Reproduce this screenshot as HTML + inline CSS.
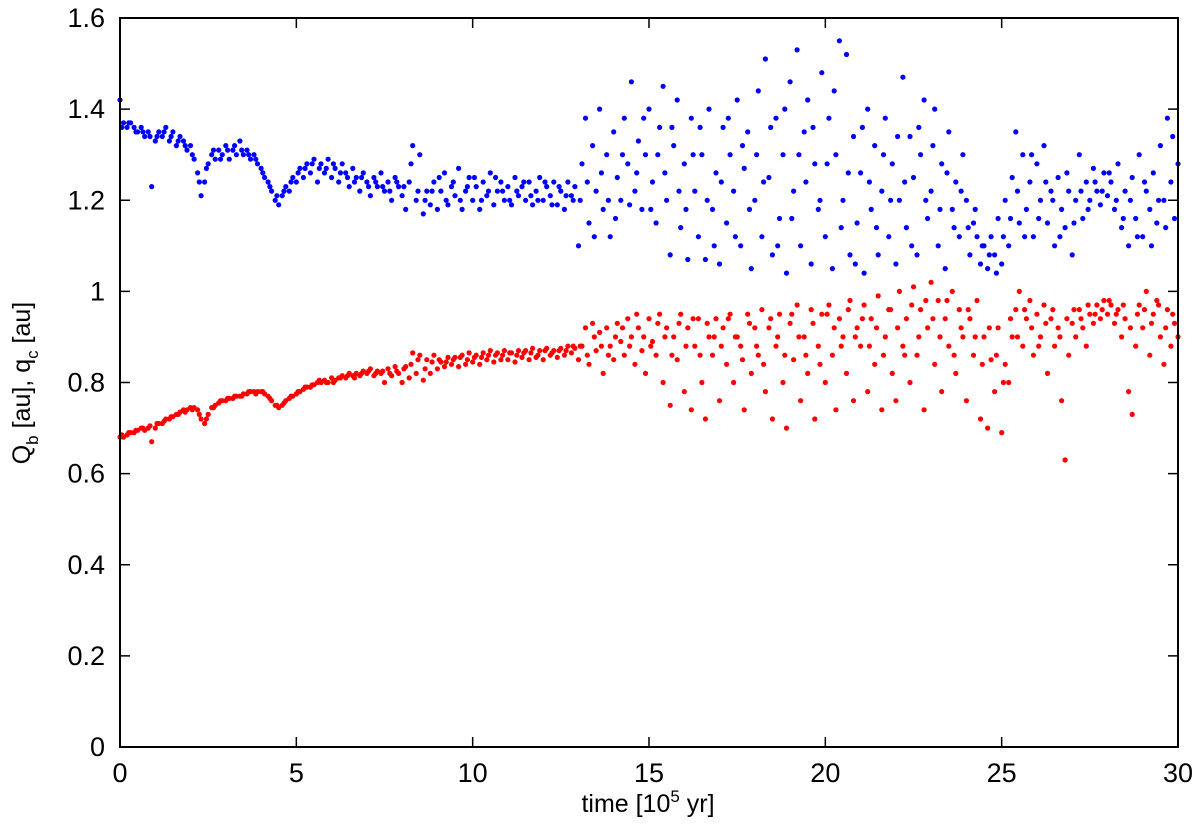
<!DOCTYPE html>
<html><head><meta charset="utf-8"><style>
html,body{margin:0;padding:0;background:#fff;}
svg{display:block;font-family:"Liberation Sans",sans-serif;}
</style></head><body>
<svg id="chart" width="1200" height="834" viewBox="0 0 1200 834" xmlns="http://www.w3.org/2000/svg">
<g id="points"></g>
<rect x="120" y="18" width="1058" height="729" fill="none" stroke="#000" stroke-width="2"/>
<g id="axes"></g>
<text x="648" y="812" font-size="25" text-anchor="middle">time [10<tspan dy="-10" font-size="17">5</tspan><tspan dy="10"> yr]</tspan></text>
<text transform="translate(30,383) rotate(-90)" font-size="25" text-anchor="middle">Q<tspan dy="8" font-size="17">b</tspan><tspan dy="-8"> [au], q</tspan><tspan dy="8" font-size="17">c</tspan><tspan dy="-8"> [au]</tspan></text>
</svg>
<script>
const xTicks = [0,5,10,15,20,25,30];
const yTicks = [0,0.2,0.4,0.6,0.8,1,1.2,1.4,1.6];
const yTickLabels = ["0","0.2","0.4","0.6","0.8","1","1.2","1.4","1.6"];
const blueQb = [[0,1.42],[0.1,1.37],[0.2,1.36],[0.3,1.37],[0.4,1.36],[0.5,1.35],[0.6,1.36],[0.7,1.34],[0.8,1.35],[0.9,1.23],[1,1.33],[1.1,1.35],[1.2,1.34],[1.3,1.36],[1.4,1.33],[1.5,1.35],[1.6,1.32],[1.7,1.34],[1.8,1.33],[1.9,1.31],[2,1.32],[2.1,1.29],[2.2,1.26],[2.3,1.21],[2.4,1.24],[2.5,1.28],[2.6,1.3],[2.7,1.29],[2.8,1.31],[2.9,1.3],[3,1.32],[3.1,1.29],[3.2,1.31],[3.3,1.3],[3.4,1.33],[3.5,1.3],[3.6,1.31],[3.7,1.29],[3.8,1.3],[3.9,1.28],[4,1.27],[4.1,1.25],[4.2,1.24],[4.3,1.22],[4.4,1.2],[4.5,1.19],[4.6,1.21],[4.7,1.23],[4.8,1.22],[4.9,1.25],[5,1.24],[5.1,1.27],[5.2,1.25],[5.3,1.28],[5.4,1.26],[5.5,1.29],[5.6,1.24],[5.7,1.28],[5.8,1.26],[5.9,1.29],[6,1.25],[6.1,1.27],[6.2,1.24],[6.3,1.28],[6.4,1.26],[6.5,1.23],[6.6,1.27],[6.7,1.25],[6.8,1.22],[6.9,1.26],[7,1.24],[7.1,1.21],[7.2,1.25],[7.3,1.23],[7.4,1.26],[7.5,1.22],[7.6,1.24],[7.7,1.2],[7.8,1.25],[7.9,1.23],[8,1.21],[8.1,1.18],[8.2,1.24],[8.3,1.32],[8.4,1.2],[8.5,1.3],[8.6,1.17],[8.7,1.22],[8.8,1.19],[8.9,1.24],[9,1.18],[9.1,1.22],[9.2,1.26],[9.3,1.19],[9.4,1.23],[9.5,1.21],[9.6,1.27],[9.7,1.18],[9.8,1.22],[9.9,1.25],[10,1.2],[10.1,1.23],[10.2,1.18],[10.3,1.24],[10.4,1.21],[10.5,1.26],[10.6,1.19],[10.7,1.22],[10.8,1.24],[10.9,1.2],[11,1.23],[11.1,1.19],[11.2,1.25],[11.3,1.21],[11.4,1.23],[11.5,1.2],[11.6,1.24],[11.7,1.19],[11.8,1.22],[11.9,1.25],[12,1.2],[12.1,1.23],[12.2,1.21],[12.3,1.24],[12.4,1.19],[12.5,1.22],[12.6,1.18],[12.7,1.24],[12.8,1.21],[12.9,1.23],
[13,1.1],[13.1,1.28],[13.2,1.38],[13.3,1.15],[13.4,1.32],[13.5,1.22],[13.6,1.4],[13.7,1.18],[13.8,1.3],[13.9,1.12],[14,1.35],[14.1,1.25],[14.2,1.2],[14.3,1.38],[14.4,1.28],[14.5,1.46],[14.6,1.22],[14.7,1.33],[14.8,1.18],[14.9,1.3],[15,1.4],[15.1,1.24],[15.2,1.15],[15.3,1.36],[15.4,1.45],[15.5,1.2],[15.6,1.08],[15.7,1.32],[15.8,1.42],[15.9,1.14],[16,1.28],[16.1,1.07],[16.2,1.38],[16.3,1.22],[16.4,1.12],[16.5,1.3],[16.6,1.07],[16.7,1.4],[16.8,1.18],[16.9,1.26],[17,1.06],[17.1,1.36],[17.2,1.15],[17.3,1.3],[17.4,1.22],[17.5,1.42],[17.6,1.1],[17.7,1.27],[17.8,1.35],[17.9,1.05],[18,1.2],[18.1,1.44],[18.2,1.12],[18.3,1.51],[18.4,1.25],[18.5,1.08],[18.6,1.38],[18.7,1.16],[18.8,1.3],[18.9,1.04],[19,1.46],[19.1,1.22],[19.2,1.53],[19.3,1.1],[19.4,1.35],[19.5,1.42],[19.6,1.06],[19.7,1.28],[19.8,1.18],[19.9,1.48],[20,1.12],[20.1,1.38],[20.2,1.05],[20.3,1.3],[20.4,1.55],[20.5,1.2],[20.6,1.52],[20.7,1.08],[20.8,1.34],[20.9,1.15],[21,1.26],[21.1,1.04],[21.2,1.4],[21.3,1.18],[21.4,1.32],[21.5,1.08],[21.6,1.22],[21.7,1.38],[21.8,1.12],[21.9,1.28],[22,1.06],[22.1,1.2],[22.2,1.47],[22.3,1.14],[22.4,1.34],[22.5,1.25],[22.6,1.08],[22.7,1.3],[22.8,1.42],[22.9,1.16],[23,1.22],[23.1,1.4],[23.2,1.1],[23.3,1.28],[23.4,1.05],[23.5,1.35],[23.6,1.18],[23.7,1.24],[23.8,1.12],[23.9,1.3],[24,1.2],[24.1,1.08],[24.2,1.15],[24.3,1.12],[24.4,1.06],[24.5,1.1],[24.6,1.05],[24.7,1.12],[24.8,1.08],[24.9,1.16],[25,1.06],[25.1,1.2],[25.2,1.1],[25.3,1.25],[25.4,1.35],[25.5,1.15],[25.6,1.3],[25.7,1.18],[25.8,1.24],[25.9,1.12],[26,1.28],[26.1,1.2],[26.2,1.32],[26.3,1.15],[26.4,1.22],[26.5,1.1],[26.6,1.25],[26.7,1.18],[26.8,1.14],[26.9,1.22],[27,1.08],[27.1,1.2],[27.2,1.3],[27.3,1.16],[27.4,1.24],[27.5,1.2],[27.6,1.27],[27.7,1.22],[27.8,1.19],[27.9,1.26],[28,1.21],[28.1,1.24],[28.2,1.18],[28.3,1.28],[28.4,1.14],[28.5,1.22],[28.6,1.1],[28.7,1.25],[28.8,1.16],[28.9,1.3],[29,1.12],[29.1,1.22],[29.2,1.18],[29.3,1.26],[29.4,1.15],[29.5,1.32],[29.6,1.2],[29.7,1.38],[29.8,1.24],[29.9,1.16],[30,1.28]];
const blueQbExtra = [[0.05,1.36],[0.25,1.37],[0.45,1.35],[0.65,1.35],[0.85,1.34],[1.05,1.34],[1.25,1.35],[1.45,1.34],[1.65,1.33],[1.85,1.32],[2.05,1.3],[2.25,1.24],[2.45,1.27],[2.65,1.31],[2.85,1.29],[3.05,1.31],[3.25,1.32],[3.45,1.31],[3.65,1.3],[3.85,1.29],[4.05,1.26],[4.25,1.23],[4.45,1.21],[4.65,1.22],[4.85,1.24],[5.05,1.26],[5.25,1.27],[5.45,1.28],[5.65,1.27],[5.85,1.27],[6.05,1.28],[6.25,1.26],[6.45,1.25],[6.65,1.24],[6.85,1.25],[7.05,1.23],[7.25,1.24],[7.45,1.23],[7.65,1.22],[7.85,1.24],[8.05,1.23],[8.25,1.28],[8.45,1.22],[8.65,1.2],[8.85,1.22],[9.05,1.25],[9.25,1.2],[9.45,1.24],[9.65,1.2],[9.85,1.23],[10.05,1.25],[10.25,1.2],[10.45,1.22],[10.65,1.25],[10.85,1.22],[11.05,1.2],[11.25,1.22],[11.45,1.24],[11.65,1.21],[11.85,1.2],[12.05,1.24],[12.25,1.19],[12.45,1.23],[12.65,1.21],[12.85,1.2],
[13.05,1.2],[13.25,1.24],[13.45,1.12],[13.65,1.26],[13.85,1.2],[14.05,1.16],[14.25,1.3],[14.45,1.19],[14.65,1.26],[14.85,1.38],[15.05,1.18],[15.25,1.3],[15.45,1.26],[15.65,1.36],[15.85,1.22],[16.05,1.18],[16.25,1.3],[16.45,1.36],[16.65,1.2],[16.85,1.1],[17.05,1.24],[17.25,1.38],[17.45,1.12],[17.65,1.32],[17.85,1.18],[18.05,1.3],[18.25,1.24],[18.45,1.36],[18.65,1.1],[18.85,1.4],[19.05,1.16],[19.25,1.3],[19.45,1.24],[19.65,1.36],[19.85,1.2],[20.05,1.28],[20.25,1.44],[20.45,1.14],[20.65,1.26],[20.85,1.06],[21.05,1.36],[21.25,1.24],[21.45,1.14],[21.65,1.3],[21.85,1.2],[22.05,1.34],[22.25,1.24],[22.45,1.1],[22.65,1.36],[22.85,1.2],[23.05,1.32],[23.25,1.18],[23.45,1.26],[23.65,1.14],[23.85,1.22],[24.05,1.14],[24.25,1.18],[24.45,1.1],[24.65,1.08],[24.85,1.04],[25.05,1.12],[25.25,1.16],[25.45,1.22],[25.65,1.12],[25.85,1.3],[26.05,1.16],[26.25,1.24],[26.45,1.2],[26.65,1.12],[26.85,1.26],[27.05,1.15],[27.25,1.22],[27.45,1.18],[27.65,1.24],[27.85,1.22],[28.05,1.26],[28.25,1.2],[28.45,1.16],[28.65,1.2],[28.85,1.12],[29.05,1.24],[29.25,1.1],[29.45,1.2],[29.65,1.14],[29.85,1.34]];
const redQc = [[0,0.68],[0.1,0.68],[0.2,0.685],[0.3,0.69],[0.4,0.69],[0.5,0.695],[0.6,0.7],[0.7,0.695],[0.8,0.7],[0.9,0.67],[1,0.7],[1.1,0.71],[1.2,0.71],[1.3,0.72],[1.4,0.72],[1.5,0.725],[1.6,0.73],[1.7,0.735],[1.8,0.74],[1.9,0.74],[2,0.745],[2.1,0.745],[2.2,0.74],[2.3,0.72],[2.4,0.71],[2.5,0.73],[2.6,0.745],[2.7,0.75],[2.8,0.755],[2.9,0.76],[3,0.76],[3.1,0.765],[3.2,0.765],[3.3,0.77],[3.4,0.77],[3.5,0.775],[3.6,0.775],[3.7,0.78],[3.8,0.78],[3.9,0.78],[4,0.78],[4.1,0.775],[4.2,0.77],[4.3,0.76],[4.4,0.75],[4.5,0.745],[4.6,0.75],[4.7,0.76],[4.8,0.765],[4.9,0.77],[5,0.775],[5.1,0.78],[5.2,0.785],[5.3,0.79],[5.4,0.79],[5.5,0.795],[5.6,0.8],[5.7,0.8],[5.8,0.805],[5.9,0.8],[6,0.81],[6.1,0.805],[6.2,0.81],[6.3,0.815],[6.4,0.81],[6.5,0.82],[6.6,0.815],[6.7,0.82],[6.8,0.815],[6.9,0.825],[7,0.82],[7.1,0.83],[7.2,0.815],[7.3,0.825],[7.4,0.82],[7.5,0.8],[7.6,0.83],[7.7,0.815],[7.8,0.835],[7.9,0.82],[8,0.8],[8.1,0.835],[8.2,0.81],[8.3,0.865],[8.4,0.82],[8.5,0.86],[8.6,0.805],[8.7,0.85],[8.8,0.82],[8.9,0.86],[9,0.83],[9.1,0.845],[9.2,0.835],[9.3,0.855],[9.4,0.84],[9.5,0.855],[9.6,0.835],[9.7,0.86],[9.8,0.84],[9.9,0.865],[10,0.845],[10.1,0.86],[10.2,0.84],[10.3,0.865],[10.4,0.85],[10.5,0.87],[10.6,0.845],[10.7,0.865],[10.8,0.85],[10.9,0.87],[11,0.85],[11.1,0.865],[11.2,0.845],[11.3,0.87],[11.4,0.855],[11.5,0.87],[11.6,0.85],[11.7,0.875],[11.8,0.855],[11.9,0.87],[12,0.85],[12.1,0.875],[12.2,0.86],[12.3,0.87],[12.4,0.855],[12.5,0.875],[12.6,0.86],[12.7,0.88],[12.8,0.865],[12.9,0.875],
[13,0.85],[13.1,0.88],[13.2,0.92],[13.3,0.84],[13.4,0.93],[13.5,0.87],[13.6,0.91],[13.7,0.82],[13.8,0.92],[13.9,0.88],[14,0.85],[14.1,0.93],[14.2,0.89],[14.3,0.86],[14.4,0.94],[14.5,0.9],[14.6,0.84],[14.7,0.92],[14.8,0.87],[14.9,0.82],[15,0.94],[15.1,0.89],[15.2,0.86],[15.3,0.95],[15.4,0.8],[15.5,0.92],[15.6,0.75],[15.7,0.9],[15.8,0.85],[15.9,0.95],[16,0.78],[16.1,0.92],[16.2,0.74],[16.3,0.88],[16.4,0.94],[16.5,0.8],[16.6,0.72],[16.7,0.9],[16.8,0.86],[16.9,0.94],[17,0.76],[17.1,0.92],[17.2,0.84],[17.3,0.95],[17.4,0.8],[17.5,0.9],[17.6,0.88],[17.7,0.74],[17.8,0.95],[17.9,0.82],[18,0.92],[18.1,0.86],[18.2,0.96],[18.3,0.78],[18.4,0.92],[18.5,0.72],[18.6,0.88],[18.7,0.95],[18.8,0.8],[18.9,0.7],[19,0.93],[19.1,0.85],[19.2,0.97],[19.3,0.76],[19.4,0.9],[19.5,0.82],[19.6,0.96],[19.7,0.72],[19.8,0.88],[19.9,0.95],[20,0.8],[20.1,0.97],[20.2,0.86],[20.3,0.74],[20.4,0.94],[20.5,0.9],[20.6,0.82],[20.7,0.98],[20.8,0.76],[20.9,0.92],[21,0.88],[21.1,0.97],[21.2,0.78],[21.3,0.94],[21.4,0.84],[21.5,0.99],[21.6,0.74],[21.7,0.9],[21.8,0.96],[21.9,0.82],[22,0.76],[22.1,1],[22.2,0.88],[22.3,0.94],[22.4,0.8],[22.5,1.01],[22.6,0.86],[22.7,0.96],[22.8,0.74],[22.9,0.92],[23,1.02],[23.1,0.84],[23.2,0.98],[23.3,0.78],[23.4,0.94],[23.5,0.88],[23.6,1],[23.7,0.82],[23.8,0.96],[23.9,0.9],[24,0.76],[24.1,0.94],[24.2,0.86],[24.3,0.98],[24.4,0.72],[24.5,0.9],[24.6,0.7],[24.7,0.85],[24.8,0.78],[24.9,0.92],[25,0.69],[25.1,0.84],[25.2,0.8],[25.3,0.9],[25.4,0.96],[25.5,1],[25.6,0.88],[25.7,0.94],[25.8,0.98],[25.9,0.86],[26,0.95],[26.1,0.9],[26.2,0.97],[26.3,0.82],[26.4,0.94],[26.5,0.88],[26.6,0.92],[26.7,0.76],[26.8,0.63],[26.9,0.86],[27,0.93],[27.1,0.9],[27.2,0.96],[27.3,0.92],[27.4,0.88],[27.5,0.95],[27.6,0.93],[27.7,0.97],[27.8,0.94],[27.9,0.98],[28,0.95],[28.1,0.97],[28.2,0.93],[28.3,0.96],[28.4,0.9],[28.5,0.94],[28.6,0.78],[28.7,0.73],[28.8,0.88],[28.9,0.97],[29,0.92],[29.1,1],[29.2,0.86],[29.3,0.95],[29.4,0.98],[29.5,0.9],[29.6,0.84],[29.7,0.96],[29.8,0.88],[29.9,0.93],[30,0.9]];
const redQcExtra = [[0.05,0.685],[0.25,0.69],[0.45,0.695],[0.65,0.7],[0.85,0.705],[1.05,0.71],[1.25,0.715],[1.45,0.725],[1.65,0.73],[1.85,0.735],[2.05,0.74],[2.25,0.73],[2.45,0.72],[2.65,0.745],[2.85,0.76],[3.05,0.765],[3.25,0.77],[3.45,0.77],[3.65,0.78],[3.85,0.775],[4.05,0.78],[4.25,0.765],[4.45,0.75],[4.65,0.755],[4.85,0.77],[5.05,0.78],[5.25,0.79],[5.45,0.795],[5.65,0.805],[5.85,0.8],[6.05,0.8],[6.25,0.81],[6.45,0.815],[6.65,0.81],[6.85,0.82],[7.05,0.825],[7.25,0.82],[7.45,0.825],[7.65,0.82],[7.85,0.825],[8.05,0.83],[8.25,0.84],[8.45,0.85],[8.65,0.83],[8.85,0.845],[9.05,0.85],[9.25,0.845],[9.45,0.85],[9.65,0.855],[9.85,0.85],[10.05,0.855],[10.25,0.855],[10.45,0.86],[10.65,0.86],[10.85,0.86],[11.05,0.865],[11.25,0.86],[11.45,0.865],[11.65,0.865],[11.85,0.86],[12.05,0.87],[12.25,0.865],[12.45,0.87],[12.65,0.87],[12.85,0.88],
[13.05,0.88],[13.25,0.86],[13.45,0.9],[13.65,0.88],[13.85,0.86],[14.05,0.9],[14.25,0.92],[14.45,0.88],[14.65,0.95],[14.85,0.9],[15.05,0.88],[15.25,0.93],[15.45,0.9],[15.65,0.86],[15.85,0.93],[16.05,0.88],[16.25,0.94],[16.45,0.86],[16.65,0.93],[16.85,0.9],[17.05,0.88],[17.25,0.94],[17.45,0.9],[17.65,0.85],[17.85,0.93],[18.05,0.88],[18.25,0.84],[18.45,0.94],[18.65,0.9],[18.85,0.86],[19.05,0.95],[19.25,0.9],[19.45,0.86],[19.65,0.93],[19.85,0.84],[20.05,0.95],[20.25,0.92],[20.45,0.88],[20.65,0.96],[20.85,0.9],[21.05,0.94],[21.25,0.88],[21.45,0.92],[21.65,0.86],[21.85,0.96],[22.05,0.92],[22.25,0.86],[22.45,0.97],[22.65,0.9],[22.85,0.98],[23.05,0.94],[23.25,0.9],[23.45,0.98],[23.65,0.86],[23.85,0.92],[24.05,0.96],[24.25,0.9],[24.45,0.84],[24.65,0.92],[24.85,0.86],[25.05,0.8],[25.25,0.94],[25.45,0.9],[25.65,0.96],[25.85,0.92],[26.05,0.88],[26.25,0.93],[26.45,0.96],[26.65,0.9],[26.85,0.94],[27.05,0.96],[27.25,0.94],[27.45,0.97],[27.65,0.95],[27.85,0.96],[28.05,0.98],[28.25,0.95],[28.45,0.97],[28.65,0.92],[28.85,0.95],[29.05,0.96],[29.25,0.93],[29.45,0.97],[29.65,0.92],[29.85,0.95]];

const X0=120, X1=1178, Y0=747, Y1=18;
function xScale(v){return X0+(v-0)/(30-0)*(X1-X0);}
function yScale(v){return Y0-(v-0)/(1.6-0)*(Y0-Y1);}
const NS="http://www.w3.org/2000/svg";
const pg=document.getElementById('points');
function drawSeries(arr,color,name){
  arr.forEach(function(p){
    const c=document.createElementNS(NS,'circle');
    c.setAttribute('cx',xScale(p[0]).toFixed(1));
    c.setAttribute('cy',yScale(p[1]).toFixed(1));
    c.setAttribute('r','2.6');
    c.setAttribute('fill',color);
    
    
    pg.appendChild(c);
  });
}
drawSeries(blueQb,'#0000ff','qb-point');
drawSeries(blueQbExtra,'#0000ff','qb-point');
drawSeries(redQc,'#ff0000','qc-point');
drawSeries(redQcExtra,'#ff0000','qc-point');

const ax=document.getElementById('axes');
function line(x1,y1,x2,y2){
  const l=document.createElementNS(NS,'line');
  l.setAttribute('x1',x1);l.setAttribute('y1',y1);l.setAttribute('x2',x2);l.setAttribute('y2',y2);
  l.setAttribute('stroke','#000');l.setAttribute('stroke-width','1.5');
  
  
  ax.appendChild(l);
}
function text(x,y,s,anchor){
  const t=document.createElementNS(NS,'text');
  t.setAttribute('x',x);t.setAttribute('y',y);t.setAttribute('font-size','27');
  t.setAttribute('text-anchor',anchor);
  t.textContent=s;
  ax.appendChild(t);
  return t;
}
xTicks.forEach(function(v){
  const x=xScale(v);
  line(x,Y0,x,Y0-10); line(x,Y1,x,Y1+10);
  const t=text(x,782,String(v),'middle');
  
  
});
yTicks.forEach(function(v,i){
  const y=yScale(v);
  line(X0,y,X0+10,y); line(X1,y,X1-10,y);
  const t=text(105,y+9,yTickLabels[i],'end');
  
  
});
</script>
</body></html>
